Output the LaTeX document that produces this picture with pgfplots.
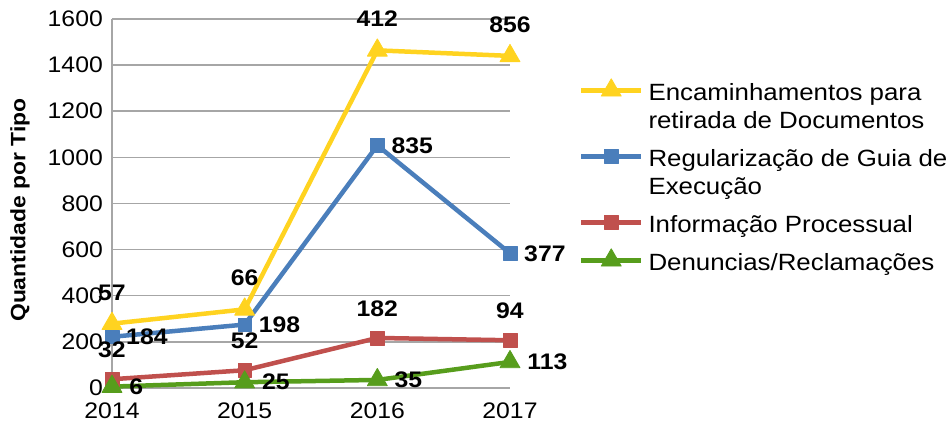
\documentclass[border=0pt]{standalone}
\usepackage{fontspec}
\setmainfont{Liberation Sans}[FakeStretch=1.1]
\usepackage{pgfplots}
\pgfplotsset{compat=1.18}
\usepackage{pgfplotstable}
\definecolor{cyel}{HTML}{FFD320}
\definecolor{cblu}{HTML}{4A7EBB}
\definecolor{cred}{HTML}{C0504D}
\definecolor{cgrn}{HTML}{579D1C}
\definecolor{gridgray}{HTML}{A6A6A6}
\newcommand\fstrut{\rule[-6pt]{0pt}{38.5pt}}
\newcommand\cstrut{\rule[-6pt]{0pt}{28.5pt}}
% stacked (cumulative) values; label = own value
\pgfplotstableread{
x y lab
0 279 57
1 341 66
2 1464 412
3 1440 856
}\enc
\pgfplotstableread{
x y lab
0 222 184
1 275 198
2 1052 835
3 584 377
}\reg
\pgfplotstableread{
x y lab
0 38 32
1 77 52
2 217 182
3 207 94
}\inf
\pgfplotstableread{
x y lab
0 6 6
1 25 25
2 35 35
3 113 113
}\den
\begin{document}
\begin{tikzpicture}
\useasboundingbox (-112pt,-37pt) rectangle (839pt,388pt);
\begin{axis}[
  at={(0,0)}, anchor=south west,
  scale only axis, width=398pt, height=369pt,
  xmin=0, xmax=3, ymin=0, ymax=1600,
  clip=false,
  xtick={0,1,2,3}, xticklabels={2014,2015,2016,2017},
  ytick={0,200,...,1600},
  scaled y ticks=false,
  /pgf/number format/1000 sep={},
  /pgf/number format/assume math mode=true,
  axis x line*=bottom, axis y line*=left,
  axis line style={draw=gridgray, line width=1.5pt},
  ymajorgrids, grid style={draw=gridgray, line width=1.5pt},
  major tick length=0pt,
  tick label style={font=\fontsize{22.5}{26}\selectfont},
  yticklabel style={inner sep=0pt, anchor=east, xshift=-9pt},
  xticklabel style={inner sep=0pt, anchor=north, yshift=-15pt},
  ylabel={Quantidade por Tipo},
  ylabel style={font=\bfseries\fontsize{20.8}{24}\selectfont, at={(axis description cs:-0.206,0.482)}, anchor=south, inner sep=0pt},
  legend style={at={(1.1734,0.8732)}, anchor=north west, draw=none, fill=none,
    inner sep=0pt, outer sep=0pt,
    font=\fontsize{23.5}{28.5}\selectfont,
    cells={anchor=base west}, row sep=0pt, column sep=3pt},
  legend image code/.code={\draw[mark repeat=2,mark phase=2,#1,yshift=10pt] plot coordinates {(0pt,0pt)(30pt,0pt)(60pt,0pt)};},
  every axis plot/.append style={line width=4.5pt, line join=round},
  nodes near coords,
  point meta=explicit symbolic,
]
\addplot[cyel, mark=triangle*, mark size=11.5pt, mark options={line width=0.8pt},
  every node near coord/.append style={font=\bfseries\fontsize{22.5}{26}\selectfont, text=black, inner sep=0pt, anchor=south, yshift=23pt}]
  table[x=x,y=y,meta=lab]{\enc};
\addlegendentry{\fstrut Encaminhamentos para}
\addlegendimage{empty legend}
\addlegendentry{\cstrut retirada de Documentos}
\addplot[cblu, mark=square*, mark size=6.8pt, mark options={line width=0.5pt},
  every node near coord/.append style={font=\bfseries\fontsize{22.5}{26}\selectfont, text=black, inner sep=0pt, anchor=west, xshift=14pt}]
  table[x=x,y=y,meta=lab]{\reg};
\addlegendentry{\fstrut Regularização de Guia de}
\addlegendimage{empty legend}
\addlegendentry{\cstrut Execução}
\addplot[cred, mark=square*, mark size=6.8pt, mark options={line width=0.5pt},
  every node near coord/.append style={font=\bfseries\fontsize{22.5}{26}\selectfont, text=black, inner sep=0pt, anchor=south, yshift=21pt}]
  table[x=x,y=y,meta=lab]{\inf};
\addlegendentry{\fstrut Informação Processual}
\addplot[cgrn, mark=triangle*, mark size=11.5pt, mark options={line width=0.8pt},
  every node near coord/.append style={font=\bfseries\fontsize{22.5}{26}\selectfont, text=black, inner sep=0pt, anchor=west, xshift=17pt}]
  table[x=x,y=y,meta=lab]{\den};
\addlegendentry{\fstrut Denuncias/Reclamações}
\end{axis}
\end{tikzpicture}
\end{document}
